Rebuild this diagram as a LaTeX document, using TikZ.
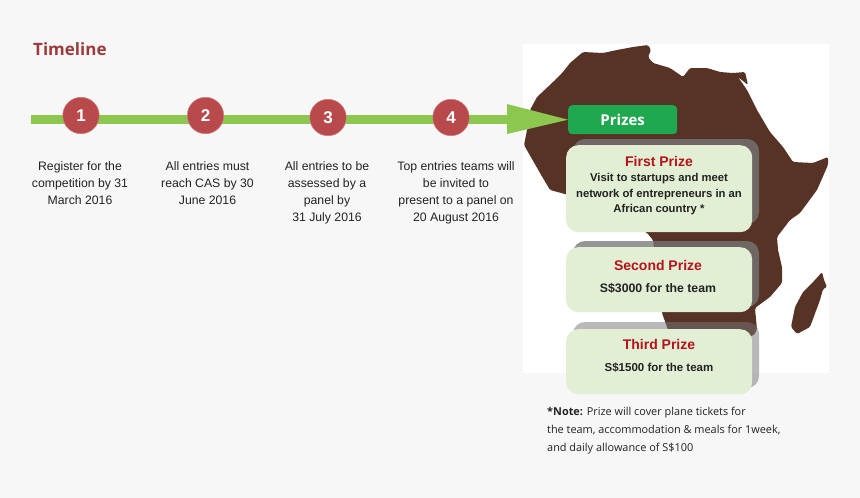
\documentclass[tikz,border=0pt]{standalone}
\usepackage{fontspec}
\setmainfont{Liberation Sans}
\newfontfamily\headfont{Open Sans}
\usetikzlibrary{calc}
\definecolor{bgc}{HTML}{F7F7F7}
\definecolor{brownc}{HTML}{573325}
\definecolor{linec}{HTML}{8CC850}
\definecolor{circlec}{HTML}{B94A4B}
\definecolor{boxc}{HTML}{E2EFD4}
\definecolor{prizec}{HTML}{1FA84F}
\definecolor{redc}{HTML}{B5121B}
\definecolor{titlec}{HTML}{9C3B3B}
\definecolor{textc}{HTML}{222222}
\definecolor{shadec}{HTML}{777777}
\tikzset{
  x=1pt,y=-1pt,
  stepnum/.style={circle,fill=circlec,draw=circlec!70!white,line width=.5pt,minimum size=36.5pt,inner sep=0pt,text=white,font=\fontsize{17}{17}\selectfont\bfseries},
  stepdesc/.style={align=center,text=textc,font=\fontsize{12.25}{17}\selectfont,inner sep=0pt,anchor=north},
  prizebox/.style={fill=boxc,rounded corners=12pt,minimum width=186pt,inner sep=0pt,anchor=north west},
  shadebox/.style={fill=shadec,rounded corners=12pt},
  prizetitle/.style={text=redc,font=\fontsize{14}{16}\selectfont\bfseries,inner sep=0pt},
  prizetext/.style={align=center,text=textc,font=\fontsize{11.3}{15.5}\selectfont\bfseries,inner sep=0pt},
  prizeline/.style={text=textc,font=\fontsize{12.3}{15}\selectfont\bfseries,inner sep=0pt},
}
\begin{document}
\begin{tikzpicture}
\useasboundingbox (0,0) rectangle (860,498);
\fill[bgc] (0,0) rectangle (860,498);
\fill[white] (523,44) rectangle (829,373);
% Africa
\fill[brownc,rounded corners=1.5pt] (524,145) -- (527,130) -- (530,110) -- (537,97) -- (552,83) -- (563,72) -- (570,63) -- (583,52) -- (603,53) -- (617,50) -- (633,47) -- (648,45) -- (651,50) -- (648,57) -- (653,63) -- (670,68) -- (683,77) -- (690,68) -- (707,68) -- (720,72) -- (733,73) -- (745,72) -- (748,85) -- (738,77) -- (747,90) -- (757,110) -- (770,132) -- (783,147) -- (793,162) -- (813,163) -- (828,157) -- (828,165) -- (817,190) -- (800,213) -- (790,220) -- (777,237) -- (778,250) -- (782,267) -- (782,283) -- (770,297) -- (755,308) -- (757,330) -- (753,336) -- (670,336) -- (667,327) -- (662,313) -- (653,240) -- (647,233) -- (620,215) -- (565,194) -- (550,190) -- (540,173) -- cycle;
\fill[brownc,rounded corners=1.5pt] (822,272) -- (824,280) -- (827,287) -- (823,289) -- (820,300) -- (810,327) -- (797,334) -- (791,327) -- (795,307) -- (803,292) -- (815,280) -- cycle;
% shadows
\fill[shadebox,fill opacity=.77] (573,139) rectangle (759,224);
\fill[shadebox,fill opacity=.77] (573,241) rectangle (759,307);
\fill[shadebox,fill opacity=.52] (573,322) rectangle (759,388);
% timeline
\coordinate (tlstart) at (31,119.5);
\coordinate (tlend) at (508,119.5);
\coordinate (headtop) at (507,104);
\coordinate (headbot) at (507,134);
\node[fill=prizec,rounded corners=4pt,minimum width=109pt,minimum height=29pt,inner sep=0pt,anchor=north west,text=white,font=\headfont\fontsize{15}{15}\selectfont\bfseries] (prizes) at (568,105) {Prizes};
\draw[linec,line width=9pt] (tlstart) -- (tlend);
\fill[linec] (headtop) -- (prizes.west) -- (headbot) -- cycle;
\node[stepnum] (n1) at (81,115.5) {1};
\node[stepnum] (n2) at (205.5,115.5) {2};
\node[stepnum] (n3) at (328,117.5) {3};
\node[stepnum] (n4) at (451,117.5) {4};
\node[stepdesc] (d1) at (80,161) {Register for the\\competition by 31\\March 2016};
\node[stepdesc] (d2) at (207.5,161) {All entries must\\reach CAS by 30\\June 2016};
\node[stepdesc] (d3) at (327,161) {All entries to be\\assessed by a\\panel by\\31 July 2016};
\node[stepdesc] (d4) at (456,161) {Top entries teams will\\be invited to\\present to a panel on\\20 August 2016};
\node[anchor=west,inner sep=0pt,text=titlec,font=\headfont\fontsize{17}{17}\selectfont\bfseries] (title) at (33,49) {Timeline};
% boxes
\node[prizebox,minimum height=87pt] (b1) at (566,145) {};
\node[prizebox,minimum height=65pt] (b2) at (566,247) {};
\node[prizebox,minimum height=65pt] (b3) at (566,329) {};
\node[prizetitle] (t1) at (659,161) {First Prize};
\node[prizetext,anchor=north] (x1) at (659,173.5) {Visit to startups and meet\\network of entrepreneurs in an\\African country *};
\node[prizetitle] (t2) at (658,265) {Second Prize};
\node[prizeline] (x2) at (658,288.5) {S\$3000 for the team};
\node[prizetitle] (t3) at (659,344) {Third Prize};
\node[prizetext,font=\fontsize{11.5}{15}\selectfont\bfseries] (x3) at (659,367.5) {S\$1500 for the team};
\node[align=left,anchor=north west,inner sep=0pt,text=textc,font=\headfont\fontsize{10.9}{18.2}\selectfont] (note) at (547,406.5) {\textbf{*Note:} Prize will cover plane tickets for\\the team, accommodation \& meals for 1week,\\and daily allowance of S\$100};
\end{tikzpicture}
\end{document}
